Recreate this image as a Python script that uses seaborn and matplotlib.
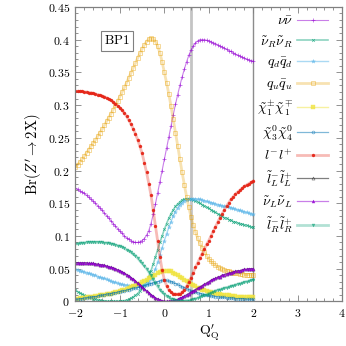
import numpy as np
import matplotlib
matplotlib.use("Agg")
import matplotlib.pyplot as plt
from matplotlib.ticker import FuncFormatter, MultipleLocator
from matplotlib.colors import to_rgba
import seaborn as sns

# ---------------- data ----------------
q_start, q_stop, q_step = -2.0, 2.0, 0.05
q_prime = np.round(np.arange(q_start, q_stop + q_step / 2, q_step), 2)

nu_nubar = [0.173, 0.171, 0.169, 0.167, 0.165, 0.162, 0.159, 0.156, 0.153, 0.150,
            0.146, 0.143, 0.139, 0.135, 0.131, 0.127, 0.123, 0.119, 0.115, 0.111,
            0.107, 0.104, 0.100, 0.097, 0.095, 0.093, 0.091, 0.090, 0.090, 0.091,
            0.093, 0.096, 0.101, 0.108, 0.119, 0.133, 0.149, 0.166, 0.183, 0.200,
            0.217, 0.234, 0.251, 0.268, 0.285, 0.301, 0.316, 0.330, 0.343, 0.355,
            0.366, 0.376, 0.384, 0.390, 0.395, 0.398, 0.400, 0.400, 0.400, 0.399,
            0.398, 0.397, 0.395, 0.394, 0.392, 0.390, 0.389, 0.387, 0.385, 0.383,
            0.382, 0.380, 0.378, 0.376, 0.375, 0.373, 0.372, 0.370, 0.369, 0.368,
            0.367]

snuR_snuR = [0.017, 0.015, 0.013, 0.011, 0.009, 0.008, 0.006, 0.005, 0.004, 0.003,
             0.002, 0.002, 0.001, 0.001, 0.000, 0.000, 0.000, 0.000, 0.000, 0.000,
             0.000, 0.001, 0.001, 0.002, 0.003, 0.005, 0.007, 0.009, 0.012, 0.016,
             0.020, 0.025, 0.031, 0.038, 0.047, 0.057, 0.068, 0.079, 0.090, 0.100,
             0.110, 0.119, 0.127, 0.134, 0.140, 0.145, 0.149, 0.152, 0.155, 0.156,
             0.157, 0.157, 0.156, 0.155, 0.154, 0.152, 0.150, 0.148, 0.146, 0.144,
             0.142, 0.140, 0.138, 0.136, 0.134, 0.132, 0.130, 0.128, 0.127, 0.125,
             0.124, 0.122, 0.121, 0.120, 0.119, 0.118, 0.117, 0.116, 0.115, 0.114,
             0.113]

qd_qdbar = [0.049, 0.048, 0.047, 0.046, 0.045, 0.044, 0.043, 0.042, 0.041, 0.040,
            0.038, 0.037, 0.036, 0.035, 0.034, 0.032, 0.031, 0.030, 0.029, 0.028,
            0.027, 0.026, 0.025, 0.025, 0.024, 0.024, 0.023, 0.023, 0.023, 0.023,
            0.024, 0.025, 0.027, 0.030, 0.034, 0.041, 0.050, 0.060, 0.071, 0.082,
            0.093, 0.103, 0.113, 0.122, 0.130, 0.137, 0.143, 0.148, 0.151, 0.154,
            0.155, 0.156, 0.157, 0.157, 0.157, 0.156, 0.156, 0.155, 0.154, 0.153,
            0.152, 0.151, 0.150, 0.149, 0.148, 0.147, 0.146, 0.145, 0.145, 0.144,
            0.143, 0.142, 0.141, 0.140, 0.139, 0.138, 0.137, 0.136, 0.135, 0.134,
            0.133]

qu_qubar = [0.205, 0.209, 0.213, 0.217, 0.222, 0.227, 0.232, 0.237, 0.242, 0.247,
            0.252, 0.258, 0.263, 0.269, 0.275, 0.281, 0.287, 0.293, 0.300, 0.306,
            0.313, 0.320, 0.327, 0.334, 0.342, 0.349, 0.357, 0.364, 0.372, 0.379,
            0.386, 0.392, 0.397, 0.401, 0.402, 0.401, 0.397, 0.390, 0.380, 0.366,
            0.350, 0.334, 0.317, 0.298, 0.278, 0.258, 0.238, 0.217, 0.197, 0.178,
            0.160, 0.144, 0.129, 0.117, 0.106, 0.097, 0.089, 0.082, 0.076, 0.070,
            0.065, 0.061, 0.058, 0.055, 0.053, 0.051, 0.049, 0.048, 0.047, 0.046,
            0.045, 0.044, 0.043, 0.043, 0.042, 0.042, 0.041, 0.041, 0.041, 0.040,
            0.040]

chi1_chi1 = [0.004, 0.004, 0.005, 0.005, 0.005, 0.006, 0.006, 0.007, 0.007, 0.008,
             0.008, 0.009, 0.009, 0.010, 0.011, 0.011, 0.012, 0.013, 0.014, 0.015,
             0.016, 0.017, 0.018, 0.019, 0.020, 0.022, 0.023, 0.024, 0.026, 0.027,
             0.029, 0.031, 0.033, 0.035, 0.037, 0.039, 0.041, 0.043, 0.045, 0.046,
             0.047, 0.047, 0.047, 0.046, 0.044, 0.042, 0.040, 0.038, 0.036, 0.033,
             0.031, 0.029, 0.027, 0.025, 0.023, 0.021, 0.020, 0.018, 0.017, 0.016,
             0.015, 0.014, 0.013, 0.012, 0.011, 0.011, 0.010, 0.010, 0.009, 0.009,
             0.008, 0.008, 0.008, 0.007, 0.007, 0.007, 0.007, 0.006, 0.006, 0.006,
             0.006]

chi3_chi4 = [0.003, 0.003, 0.004, 0.004, 0.005, 0.005, 0.006, 0.006, 0.007, 0.007,
             0.008, 0.009, 0.009, 0.010, 0.011, 0.011, 0.012, 0.013, 0.013, 0.014,
             0.015, 0.016, 0.016, 0.017, 0.018, 0.019, 0.020, 0.020, 0.021, 0.022,
             0.023, 0.024, 0.025, 0.026, 0.027, 0.028, 0.029, 0.030, 0.031, 0.032,
             0.032, 0.032, 0.031, 0.030, 0.029, 0.027, 0.026, 0.024, 0.022, 0.021,
             0.019, 0.018, 0.016, 0.015, 0.014, 0.013, 0.012, 0.011, 0.010, 0.009,
             0.009, 0.008, 0.008, 0.007, 0.007, 0.006, 0.006, 0.006, 0.005, 0.005,
             0.005, 0.005, 0.004, 0.004, 0.004, 0.004, 0.004, 0.003, 0.003, 0.003,
             0.003]

lep_lep = [0.321, 0.321, 0.321, 0.321, 0.320, 0.320, 0.319, 0.319, 0.318, 0.317,
           0.316, 0.315, 0.314, 0.313, 0.311, 0.309, 0.307, 0.305, 0.302, 0.299,
           0.296, 0.292, 0.288, 0.283, 0.277, 0.271, 0.264, 0.256, 0.247, 0.237,
           0.226, 0.212, 0.197, 0.180, 0.162, 0.139, 0.115, 0.092, 0.068, 0.048,
           0.033, 0.024, 0.018, 0.014, 0.012, 0.011, 0.011, 0.012, 0.014, 0.018,
           0.023, 0.029, 0.036, 0.044, 0.052, 0.059, 0.066, 0.073, 0.080, 0.087,
           0.093, 0.100, 0.107, 0.114, 0.121, 0.128, 0.134, 0.140, 0.146, 0.151,
           0.156, 0.160, 0.164, 0.167, 0.170, 0.173, 0.176, 0.178, 0.180, 0.182,
           0.184]

snuL_snuL = [0.059, 0.059, 0.059, 0.059, 0.059, 0.059, 0.058, 0.058, 0.058, 0.057,
             0.057, 0.056, 0.056, 0.055, 0.054, 0.053, 0.052, 0.051, 0.050, 0.048,
             0.047, 0.045, 0.043, 0.041, 0.039, 0.036, 0.034, 0.031, 0.028, 0.025,
             0.022, 0.019, 0.016, 0.013, 0.010, 0.008, 0.005, 0.004, 0.002, 0.001,
             0.000, 0.000, 0.000, 0.001, 0.001, 0.002, 0.003, 0.005, 0.006, 0.008,
             0.010, 0.012, 0.014, 0.016, 0.018, 0.020, 0.022, 0.024, 0.026, 0.028,
             0.030, 0.032, 0.034, 0.035, 0.037, 0.038, 0.040, 0.041, 0.042, 0.043,
             0.044, 0.045, 0.046, 0.047, 0.047, 0.048, 0.049, 0.049, 0.050, 0.050,
             0.050]

# left-handed charged sleptons: hidden beneath the sneutrino curve (same values)
slepL_slepL = list(snuL_snuL)

slepR_slepR = [0.088, 0.088, 0.089, 0.089, 0.089, 0.090, 0.090, 0.090, 0.090, 0.090,
               0.090, 0.090, 0.090, 0.089, 0.089, 0.089, 0.088, 0.087, 0.086, 0.085,
               0.084, 0.083, 0.081, 0.079, 0.077, 0.075, 0.072, 0.070, 0.066, 0.062,
               0.058, 0.054, 0.050, 0.045, 0.040, 0.034, 0.028, 0.023, 0.018, 0.014,
               0.011, 0.008, 0.006, 0.004, 0.003, 0.002, 0.001, 0.000, 0.000, 0.000,
               0.001, 0.001, 0.002, 0.003, 0.004, 0.005, 0.006, 0.008, 0.009, 0.010,
               0.012, 0.013, 0.014, 0.016, 0.017, 0.018, 0.019, 0.020, 0.021, 0.022,
               0.023, 0.024, 0.025, 0.026, 0.027, 0.028, 0.029, 0.030, 0.031, 0.032,
               0.033]

labels = [r"$\nu\bar{\nu}$",
          r"$\tilde{\nu}_R\tilde{\nu}_R$",
          r"$q_d\bar{q}_d$",
          r"$q_u\bar{q}_u$",
          r"$\tilde{\chi}_1^{\pm}\tilde{\chi}_1^{\mp}$",
          r"$\tilde{\chi}_3^{0}\tilde{\chi}_4^{0}$",
          r"$l^{-}l^{+}$",
          r"$\tilde{l}_L^{-}\tilde{l}_L^{+}$",
          r"$\tilde{\nu}_L\tilde{\nu}_L$",
          r"$\tilde{l}_R^{-}\tilde{l}_R^{+}$"]
series = [nu_nubar, snuR_snuR, qd_qdbar, qu_qubar, chi1_chi1, chi3_chi4,
          lep_lep, slepL_slepL, snuL_snuL, slepR_slepR]

benchmark_q = 0.6
x_ticks = [-2, -1, 0, 1, 2, 3, 4]
y_ticks = [0, 0.05, 0.1, 0.15, 0.2, 0.25, 0.3, 0.35, 0.4, 0.45]

# ---------------- styles ----------------
styles = [
    dict(color="#9400d3", marker="+", ms=2.6, lw=0.8, la=0.5, ma=0.7, filled=True, mew=0.5),
    dict(color="#009e73", marker="x", ms=2.0, lw=1.2, la=0.45, ma=0.7, filled=True, mew=0.5),
    dict(color="#56b4e9", marker="*", ms=3.0, lw=1.0, la=0.5, ma=0.6, filled=True, mew=0.3),
    dict(color="#e69f00", marker="s", ms=2.8, lw=2.0, la=0.3, ma=0.55, filled=False, mew=0.5),
    dict(color="#f0e442", marker="s", ms=2.6, lw=1.0, la=0.5, ma=0.8, filled=True, mew=0.3),
    dict(color="#0072b2", marker="o", ms=2.0, lw=0.9, la=0.5, ma=0.6, filled=False, mew=0.5),
    dict(color="#e51e10", marker="o", ms=2.2, lw=2.0, la=0.3, ma=0.9, filled=True, mew=0.2),
    dict(color="#000000", marker="^", ms=2.2, lw=0.9, la=0.5, ma=0.6, filled=False, mew=0.4),
    dict(color="#9400d3", marker="^", ms=2.2, lw=0.9, la=0.5, ma=0.85, filled=True, mew=0.2),
    dict(color="#009e73", marker="v", ms=2.2, lw=2.0, la=0.3, ma=0.6, filled=True, mew=0.2),
]

plt.rcParams["mathtext.fontset"] = "cm"
plt.rcParams["font.family"] = ["DejaVu Serif"]

fig = plt.figure(figsize=(3.46, 3.46), dpi=100)
ax = fig.add_axes([0.218, 0.129, 0.771, 0.851])

handles = []
for vals, st in zip(series, styles):
    sns.lineplot(x=q_prime, y=vals, ax=ax, estimator=None, sort=False,
                 color=st["color"], marker=st["marker"], markersize=st["ms"],
                 linewidth=st["lw"])
    ln = ax.get_lines()[-1]
    ln.set_color(to_rgba(st["color"], st["la"]))
    mcol = to_rgba(st["color"], st["ma"])
    ln.set_markeredgecolor(mcol)
    ln.set_markerfacecolor(mcol if st["filled"] else "none")
    ln.set_markeredgewidth(st["mew"])
    handles.append(ln)

ax.axvline(benchmark_q, color="#c4c4c4", lw=2.0, zorder=0.5)
ax.axvline(x_ticks[4], color="#8c8c8c", lw=1.0, zorder=0.5)

ax.set_xlim(x_ticks[0], x_ticks[-1])
ax.set_ylim(y_ticks[0], y_ticks[-1])
ax.set_xticks(x_ticks)
ax.set_yticks(y_ticks)
ax.xaxis.set_minor_locator(MultipleLocator(0.2))
ax.yaxis.set_minor_locator(MultipleLocator(0.01))
fmt = FuncFormatter(lambda v, p: f"${v:g}$")
ax.xaxis.set_major_formatter(fmt)
ax.yaxis.set_major_formatter(fmt)
ax.tick_params(which="both", direction="in", top=True, right=True,
               color="#808080", labelsize=8.5, width=0.6)
ax.tick_params(which="major", length=4.5, pad=4)
ax.tick_params(which="minor", length=2.2)
for sp in ax.spines.values():
    sp.set_color("#808080")
    sp.set_linewidth(0.9)

ax.set_xlabel(r"$\mathrm{Q}^{\prime}_{\mathrm{Q}}$", fontsize=10, labelpad=2)
ax.set_ylabel(r"$\mathrm{Br}(Z^{\prime}\rightarrow 2\mathrm{X})$", fontsize=10.5, labelpad=3)

ax.text(-1.07, 0.398, r"$\mathrm{BP1}$", fontsize=9.5, ha="center", va="center",
        bbox=dict(boxstyle="square,pad=0.25", fc="white", ec="#808080", lw=0.8))

leg = ax.legend(handles, labels, loc="upper right", bbox_to_anchor=(0.946, 0.975),
                markerfirst=False, frameon=False, numpoints=1, fontsize=10,
                handlelength=2.2, handletextpad=0.3, labelspacing=0.4,
                borderaxespad=0.0, borderpad=0.0)

fig.savefig("out.png", dpi=100)
